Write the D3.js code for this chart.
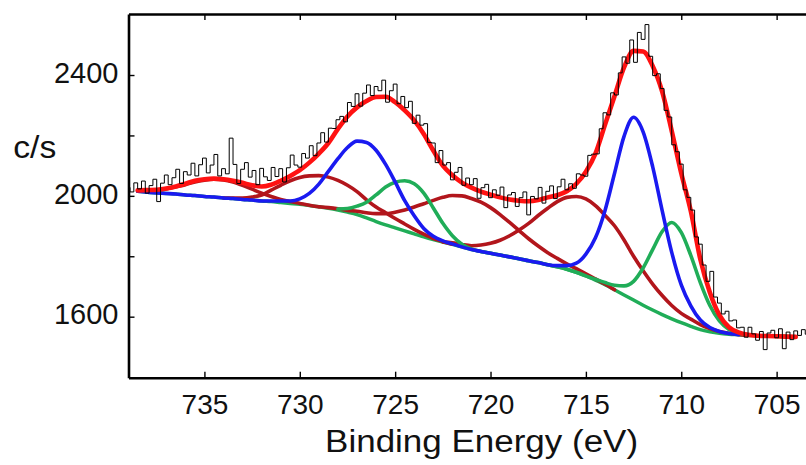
<!DOCTYPE html>
<html><head><meta charset="utf-8">
<script src="https://cdn.jsdelivr.net/npm/d3@7"></script>
<style>html,body{margin:0;padding:0;background:#fff;} svg{display:block;}</style>
</head><body>
<svg id="chart" width="806" height="465"></svg>
<script>
// ---- fit grid (binding energy, eV) ----
const fitEnergy = [738.5,738,737.5,737,736.5,736,735.5,735,734.5,734,
  733.5,733,732.5,732,731.5,731,730.5,730,729.5,729,
  728.5,728,727.5,727,726.5,726,725.5,725,724.5,724,
  723.5,723,722.5,722,721.5,721,720.5,720,719.5,719,
  718.5,718,717.5,717,716.5,716,715.5,715,714.5,714,
  713.5,713,712.5,712,711.5,711,710.5,710,709.5,709,
  708.5,708,707.5,707,706.5,706,705.5,705,704.5,704];
// Shirley-type background (c/s)
const background = [2015,2012,2010,2008,2006,2003,2001,1998,1996,1993,
  1991,1988,1986,1983,1981,1978,1975,1972,1968,1964,
  1959,1953,1946,1938,1927,1915,1904,1894,1884,1874,
  1864,1855,1847,1840,1831,1822,1816,1810,1804,1798,
  1792,1785,1779,1772,1765,1757,1747,1735,1721,1706,
  1689,1672,1655,1638,1622,1607,1593,1580,1568,1557,
  1550,1545,1542,1540,1538,1537,1536,1535,1534,1533];
// component intensities above background (null = component not drawn there)
const blueNet = [0,0,0,0,0,0,0,0,0,0,
  0,0,0,0,2,5,8,18,40,75,
  122,170,214,243,250,236,200,152,100,60,
  28,11,4,1,0,0,0,0,0,0,
  0,0,0,0,4,12,30,72,140,245,
  385,525,605,574,475,344,220,125,68,32,
  14,6,2,0,null,null,null,null,null,null];
const greenNet = [null,null,null,null,null,null,null,null,null,null,
  null,null,null,null,null,null,null,null,null,null,
  null,3,12,28,52,88,125,151,166,166,
  145,105,62,28,9,2,0,0,0,0,
  0,0,0,0,0,0,0,0,3,7,
  15,30,62,123,200,275,319,299,235,156,
  87,41,16,6,2,0,0,0,0,0];
const satNet734 = [2,5,9,15,24,34,45,54,59,60,
  55,47,36,26,17,10,6,3,1,0,
  null,null,null,null,null,null,null,null,null,null,
  null,null,null,null,null,null,null,null,null,null,
  null,null,null,null,null,null,null,null,null,null,
  null,null,null,null,null,null,null,null,null,null,
  null,null,null,null,null,null,null,null,null,null];
const satNet729 = [null,null,null,null,null,null,null,null,null,0,
  2,5,10,20,38,57,75,89,98,103,
  103,98,89,76,60,48,40,31,23,15,
  9,4,2,0,null,null,null,null,null,null,
  null,null,null,null,null,null,null,null,null,null,
  null,null,null,null,null,null,null,null,null,null,
  null,null,null,null,null,null,null,null,null,null];
const satNet721 = [null,null,null,null,null,null,null,null,null,null,
  null,null,null,null,null,null,null,null,null,0,
  2,4,6,11,17,26,37,52,69,89,
  110,130,148,161,169,169,163,151,134,114,
  93,73,55,40,28,18,12,7,4,2,
  0,null,null,null,null,null,null,null,null,null,
  null,null,null,null,null,null,null,null,null,null];
const satNet715 = [null,null,null,null,null,null,null,null,null,null,
  null,null,null,null,null,null,null,null,null,null,
  null,null,null,null,null,null,null,null,null,null,
  null,null,0,5,8,13,21,33,49,70,
  95,124,156,187,216,238,251,255,247,230,
  212,182,145,114,86,63,44,31,24,17,
  11,6,3,1,0,null,null,null,null,null];
// fitted envelope (c/s)
const envelope = [2018,2019,2020,2024,2031,2040,2050,2055,2057,2055,
  2050,2043,2035,2031,2037,2050,2066,2085,2110,2140,
  2175,2222,2263,2293,2314,2327,2328,2310,2283,2250,
  2205,2150,2100,2068,2044,2027,2014,2004,1995,1988,
  1984,1982,1986,1995,2002,2015,2040,2080,2140,2235,
  2330,2425,2480,2478,2430,2345,2215,2075,1950,1790,
  1680,1605,1565,1548,1540,1537,1536,1535,1534,1533];
// measured spectrum
const rawEnergy = [739,738.8,738.6,738.4,738.2,738,737.8,737.6,737.4,737.2,
  737,736.8,736.6,736.4,736.2,736,735.8,735.6,735.4,735.2,
  735,734.8,734.6,734.4,734.2,734,733.8,733.6,733.4,733.2,
  733,732.8,732.6,732.4,732.2,732,731.8,731.6,731.4,731.2,
  731,730.8,730.6,730.4,730.2,730,729.8,729.6,729.4,729.2,
  729,728.8,728.6,728.4,728.2,728,727.8,727.6,727.4,727.2,
  727,726.8,726.6,726.4,726.2,726,725.8,725.6,725.4,725.2,
  725,724.8,724.6,724.4,724.2,724,723.8,723.6,723.4,723.2,
  723,722.8,722.6,722.4,722.2,722,721.8,721.6,721.4,721.2,
  721,720.8,720.6,720.4,720.2,720,719.8,719.6,719.4,719.2,
  719,718.8,718.6,718.4,718.2,718,717.8,717.6,717.4,717.2,
  717,716.8,716.6,716.4,716.2,716,715.8,715.6,715.4,715.2,
  715,714.8,714.6,714.4,714.2,714,713.8,713.6,713.4,713.2,
  713,712.8,712.6,712.4,712.2,712,711.8,711.6,711.4,711.2,
  711,710.8,710.6,710.4,710.2,710,709.8,709.6,709.4,709.2,
  709,708.8,708.6,708.4,708.2,708,707.8,707.6,707.4,707.2,
  707,706.8,706.6,706.4,706.2,706,705.8,705.6,705.4,705.2,
  705,704.8,704.6,704.4,704.2,704,703.8,703.6,703.4];
const rawCounts = [2028,2013,2043,2023,2049,2009,2034,2055,1981,2042,
  2069,2037,2060,2088,2041,2080,2069,2108,2066,2103,
  2125,2076,2102,2137,2066,2090,2073,2191,2104,2041,
  2088,2110,2062,2084,2037,2091,2063,2051,2094,2064,
  2090,2046,2093,2135,2102,2095,2140,2125,2166,2133,
  2175,2209,2178,2224,2223,2252,2263,2245,2309,2296,
  2338,2297,2340,2367,2332,2362,2348,2383,2310,2348,
  2370,2305,2329,2292,2313,2240,2267,2234,2239,2177,
  2175,2110,2150,2102,2110,2053,2078,2094,2035,2059,
  2037,2057,1992,2027,2038,1994,2020,2002,2029,1961,
  2003,2011,1965,1994,2013,1937,1998,1990,2028,1976,
  2015,2033,1991,2030,2055,2020,2040,2025,2073,2069,
  2065,2134,2138,2139,2222,2275,2268,2341,2334,2407,
  2460,2439,2516,2442,2541,2518,2567,2462,2398,2404,
  2355,2283,2261,2169,2146,2105,2020,1995,1953,1864,
  1840,1771,1717,1750,1665,1645,1609,1618,1586,1589,
  1563,1565,1532,1565,1543,1522,1551,1491,1546,1555,
  1530,1560,1494,1549,1524,1553,1538,1557,1542];
// axes
const xTicks = [735,730,725,720,715,710,705];
const yTicks = [1600,1800,2000,2200,2400];
const yLabels = [1600,2000,2400];
const xExtent = [738.98, 703.46];
const yExtent = [1398, 2602];
const xTitle = "Binding Energy (eV)";
const yTitle = "c/s";

const W = 806, H = 465;
const plot = {left: 128.5, right: 806, top: 14, bottom: 377.7};
const colors = {red:'#ff1212', blue:'#1a1af0', green:'#20ad58', darkRed:'#b2161c', raw:'#000'};
const font = "'Liberation Sans', Arial, Helvetica, sans-serif";

const svg = d3.select('#chart');
svg.append('rect').attr('width', W).attr('height', H).attr('fill', '#fff');

const x = d3.scaleLinear().domain(xExtent).range([plot.left, plot.right]);
const y = d3.scaleLinear().domain(yExtent).range([plot.bottom, plot.top]);

svg.append('clipPath').attr('id','clip').append('rect')
  .attr('x', plot.left).attr('y', plot.top)
  .attr('width', plot.right - plot.left).attr('height', plot.bottom - plot.top);

const g = svg.append('g').attr('clip-path','url(#clip)');

const smooth = d3.line()
  .defined(d => d.v != null)
  .x(d => x(d.e)).y(d => y(d.v))
  .curve(d3.curveMonotoneX);

function withBg(net) {
  return fitEnergy.map((e, i) => ({e, v: net[i] == null ? null : background[i] + net[i]}));
}
function drawLine(data, color, width) {
  g.append('path').datum(data).attr('d', smooth)
    .attr('fill','none').attr('stroke', color).attr('stroke-width', width)
    .attr('stroke-linejoin','round').attr('stroke-linecap','round');
}

drawLine(fitEnergy.map((e,i)=>({e, v: background[i]})), colors.green, 3.5);
[satNet734, satNet729, satNet721, satNet715].forEach(s => drawLine(withBg(s), colors.darkRed, 3.6));
drawLine(withBg(greenNet), colors.green, 3.6);
drawLine(withBg(blueNet), colors.blue, 3.6);
drawLine(fitEnergy.map((e,i)=>({e, v: envelope[i]})), colors.red, 4.6);

const n = Math.min(rawEnergy.length, rawCounts.length);
const rawLine = d3.line().x(d => x(d.e)).y(d => y(d.v)).curve(d3.curveStep);
g.append('path').datum(d3.range(n).map(i => ({e: rawEnergy[i], v: rawCounts[i]})))
  .attr('d', rawLine).attr('fill','none').attr('stroke', colors.raw).attr('stroke-width', 1);

// axes
function styleAxis(sel) {
  sel.select('.domain').attr('stroke','#000').attr('stroke-width', 2.6);
  sel.selectAll('.tick line').attr('stroke','#000').attr('stroke-width', 1.4);
  sel.selectAll('text').attr('font-family', font).attr('fill','#111');
}
const xAxis = svg.append('g').attr('transform', `translate(0,${plot.bottom})`)
  .call(d3.axisBottom(x).tickValues(xTicks).tickSize(-6).tickSizeOuter(0).tickPadding(16).tickFormat(d3.format('d')));
styleAxis(xAxis);
xAxis.selectAll('text').attr('font-size', 28);

const topAxis = svg.append('g').attr('transform', `translate(0,${plot.top})`)
  .call(d3.axisTop(x).tickValues(xTicks).tickSize(-6).tickSizeOuter(0).tickFormat(''));
styleAxis(topAxis);

const yAxis = svg.append('g').attr('transform', `translate(${plot.left},0)`)
  .call(d3.axisLeft(y).tickValues(yTicks).tickSize(-6).tickSizeOuter(0).tickPadding(10)
    .tickFormat(d => yLabels.includes(d) ? d3.format('d')(d) : ''));
styleAxis(yAxis);
yAxis.selectAll('text').attr('font-size', 29).attr('dy', '0.25em');

svg.append('text').text(xTitle)
  .attr('x', 481.6).attr('y', 452).attr('text-anchor','middle')
  .attr('font-family', font).attr('font-size', 31).attr('fill','#111')
  .attr('textLength', 313).attr('lengthAdjust','spacingAndGlyphs');

svg.append('text').text(yTitle)
  .attr('x', 13.3).attr('y', 158.3)
  .attr('font-family', font).attr('font-size', 32).attr('fill','#111')
  .attr('textLength', 43).attr('lengthAdjust','spacingAndGlyphs');
</script>
</body></html>
